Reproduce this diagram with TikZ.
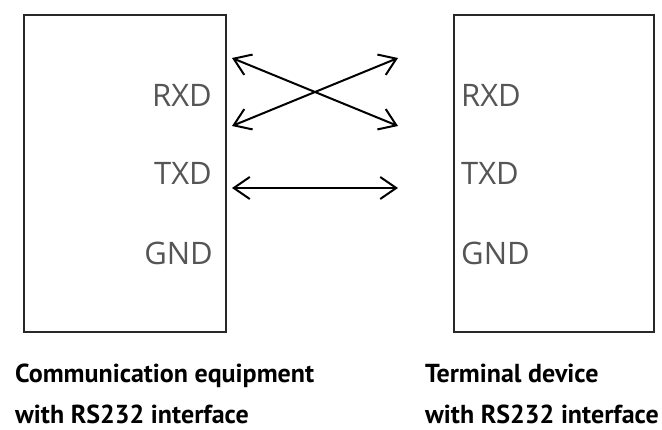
\documentclass[tikz,border=0pt]{standalone}
\usepackage{fontspec}
\newfontfamily\pinfont{Open Sans}
\newfontfamily\capfont{PT Sans}
\usetikzlibrary{arrows.meta,positioning}
\definecolor{ink}{RGB}{40,40,40}
\definecolor{pingray}{RGB}{85,85,85}
\tikzset{
  dev/.style={draw=ink,line width=2.3pt,minimum width=#1,minimum height=317pt,inner sep=0pt},
  dev/.default=202pt,
  pin/.style={font=\pinfont\fontsize{31}{31}\selectfont,text=pingray,inner sep=0pt},
  devcap/.style={font=\capfont\bfseries\fontsize{26}{41}\selectfont,align=left,inner sep=0pt,anchor=west},
  wire/.style={{Straight Barb[length=16pt,width=22pt]}-{Straight Barb[length=16pt,width=22pt]},line width=2pt,draw=black},
}

\begin{document}
\begin{tikzpicture}[x=1pt,y=-1pt]
    \useasboundingbox (0,0) rectangle (662,430);
    % the two devices
    \node[dev] (comm) at (125,173.5) {};
    \node[dev=200pt] (term) at (554,173.5) {};

    % pins
    \node[pin,anchor=east] (crxd) at (212,95) {RXD};
    \node[pin,anchor=east] (ctxd) at (212,173) {TXD};
    \node[pin,anchor=east] (cgnd) at (213,253) {GND};
    \node[pin,anchor=west] (trxd) at (461,95) {RXD};
    \node[pin,anchor=west] (ttxd) at (461,173) {TXD};
    \node[pin,anchor=west] (tgnd) at (461,253) {GND};

    % wire ends
    \coordinate (ca) at (232,58);
    \coordinate (cb) at (232,126);
    \coordinate (cc) at (232,188);
    \coordinate (ta) at (398,58);
    \coordinate (tb) at (398,126);
    \coordinate (tc) at (398,188);
    \draw[wire] (ca)--(tb);
    \draw[wire] (cb)--(ta);
    \draw[wire] (cc)--(tc);

    % captions
    \node[devcap] (ccap) at (15,394) {Communication equipment\\with RS232 interface};
    \node[devcap] (tcap) at (425,394) {Terminal device\\with RS232 interface};
  \end{tikzpicture}
\end{document}
